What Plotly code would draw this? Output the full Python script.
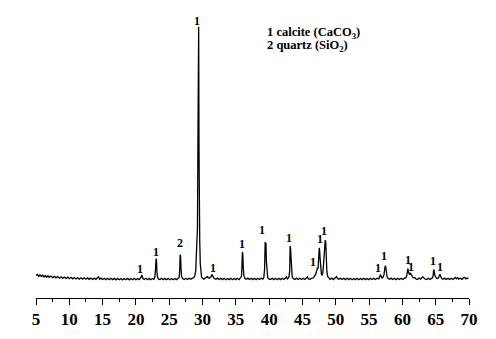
import plotly.graph_objects as go

# 2-theta (degrees) and intensity (arbitrary units)
two_theta = [
    5.0, 5.2, 5.4, 5.6, 5.8, 6.0, 6.2, 6.4, 6.6, 6.8, 7.0, 7.25, 7.5, 7.75, 8.0, 8.25, 8.5, 8.75,
    9.0, 9.25, 9.5, 9.75, 10.0, 10.25, 10.5, 10.75, 11.0, 11.25, 11.5, 11.75, 12.0, 12.25, 12.5,
    12.75, 13.0, 13.25, 13.5, 13.75, 14.0, 14.25, 14.4, 14.55, 14.75, 15.0, 15.25, 15.5, 15.75,
    16.0, 16.25, 16.5, 16.75, 17.0, 17.25, 17.5, 17.75, 18.0, 18.25, 18.5, 18.75, 19.0, 19.25,
    19.5, 19.75, 20.0, 20.25, 20.5, 20.7, 20.8, 20.88, 20.96, 21.05, 21.25, 21.5, 21.75, 22.0,
    22.25, 22.5, 22.7, 22.85, 22.95, 23.02, 23.08, 23.15, 23.25, 23.4, 23.6, 23.85, 24.1, 24.35,
    24.6, 24.85, 25.1, 25.35, 25.6, 25.85, 26.1, 26.35, 26.5, 26.58, 26.64, 26.7, 26.77, 26.85,
    27.0, 27.25, 27.5, 27.75, 28.0, 28.25, 28.5, 28.7, 28.85, 28.98, 29.08, 29.16, 29.24, 29.3,
    29.35, 29.42, 29.47, 29.52, 29.58, 29.66, 29.75, 29.85, 30.0, 30.2, 30.4, 30.6, 30.75, 30.85,
    31.0, 31.15, 31.3, 31.4, 31.48, 31.58, 31.75, 32.0, 32.25, 32.5, 32.75, 33.0, 33.25, 33.5,
    33.75, 34.0, 34.25, 34.5, 34.75, 35.0, 35.25, 35.5, 35.7, 35.85, 35.93, 35.99, 36.05, 36.12,
    36.2, 36.35, 36.55, 36.8, 37.05, 37.3, 37.55, 37.8, 38.05, 38.3, 38.55, 38.8, 39.05, 39.2,
    39.32, 39.4, 39.46, 39.52, 39.58, 39.66, 39.78, 39.95, 40.2, 40.45, 40.7, 40.95, 41.2, 41.45,
    41.7, 41.95, 42.2, 42.45, 42.6, 42.75, 42.95, 43.08, 43.15, 43.22, 43.28, 43.36, 43.46, 43.6,
    43.85, 44.1, 44.35, 44.6, 44.85, 45.1, 45.35, 45.6, 45.75, 45.9, 46.15, 46.4, 46.6, 46.8,
    47.0, 47.15, 47.25, 47.35, 47.45, 47.52, 47.58, 47.65, 47.75, 47.85, 47.95, 48.05, 48.15,
    48.25, 48.35, 48.42, 48.5, 48.58, 48.66, 48.78, 48.95, 49.15, 49.4, 49.65, 49.85, 50.0,
    50.12, 50.25, 50.45, 50.7, 50.95, 51.2, 51.45, 51.7, 51.95, 52.2, 52.45, 52.7, 52.95, 53.2,
    53.45, 53.7, 53.95, 54.2, 54.45, 54.7, 54.95, 55.2, 55.45, 55.7, 55.95, 56.2, 56.45, 56.6,
    56.72, 56.82, 56.95, 57.1, 57.25, 57.35, 57.45, 57.52, 57.6, 57.7, 57.85, 58.05, 58.3, 58.55,
    58.8, 59.05, 59.3, 59.55, 59.8, 60.05, 60.3, 60.5, 60.65, 60.75, 60.83, 60.9, 61.0, 61.1,
    61.2, 61.3, 61.42, 61.55, 61.7, 61.85, 62.0, 62.25, 62.5, 62.75, 62.9, 63.05, 63.2, 63.4,
    63.65, 63.9, 64.15, 64.35, 64.5, 64.62, 64.7, 64.78, 64.86, 64.98, 65.12, 65.3, 65.45, 65.58,
    65.66, 65.76, 65.9, 66.1, 66.35, 66.6, 66.85, 67.1, 67.35, 67.6, 67.8, 67.95, 68.1, 68.3,
    68.45, 68.7, 68.95, 69.1, 69.25, 69.4, 69.55, 69.75, 69.9,
]
intensity = [
    22.8, 24.0, 22.0, 23.6, 21.8, 23.2, 21.4, 22.9, 21.2, 22.6, 21.0, 22.3, 20.7, 22.0, 20.5, 21.8, 20.2, 21.6,
    20.0, 21.3, 19.8, 21.2, 19.7, 21.0, 19.5, 20.8, 19.4, 20.7, 19.2, 20.6, 19.2, 20.5, 19.1,
    20.4, 19.0, 20.3, 18.9, 20.2, 19.0, 20.9, 21.6, 19.2, 20.2, 18.8, 20.1, 18.7, 20.0,
    18.6, 20.0, 18.7, 19.9, 18.5, 19.9, 18.6, 19.8, 18.5, 19.8, 18.6, 19.9, 18.5, 19.8,
    18.6, 19.9, 18.6, 19.9, 18.7, 20.1, 21.5, 23.5, 22.0, 19.8, 18.8, 20.0, 18.6, 19.9,
    18.6, 19.8, 19.0, 21.5, 30.0, 40.0, 39.0, 27.0, 21.0, 19.2, 18.7, 20.0, 18.6, 19.9,
    18.6, 19.9, 18.6, 19.8, 18.6, 19.9, 18.7, 20.0, 21.0, 30.0, 44.0, 43.0, 30.0, 22.5,
    19.8, 18.9, 20.1, 18.8, 20.1, 19.0, 20.3, 20.8, 22.5, 28.0, 45.0, 65.0, 72.0, 150.0,
    276.0, 276.0, 150.0, 70.0, 58.0, 35.0, 25.0, 21.5, 20.0, 19.2, 20.6, 20.8, 22.2, 20.6,
    20.2, 21.5, 21.8, 24.0, 23.2, 21.0, 19.8, 19.0, 20.2, 18.8, 20.1, 18.7, 20.0, 18.6,
    19.9, 18.7, 20.0, 18.6, 19.9, 18.7, 20.0, 18.8, 20.1, 22.0, 35.0, 47.0, 44.0, 30.0,
    23.0, 20.0, 19.0, 20.2, 18.8, 20.1, 18.7, 20.0, 18.7, 20.0, 18.8, 20.1, 19.2, 20.8,
    30.0, 57.0, 52.0, 56.0, 38.0, 25.0, 20.8, 19.4, 18.8, 20.1, 18.7, 20.0, 18.6, 20.0,
    18.7, 20.0, 18.8, 20.3, 21.4, 19.4, 20.8, 27.0, 53.0, 50.0, 42.0, 27.0, 21.5, 19.8,
    18.9, 20.2, 18.8, 20.1, 18.8, 20.1, 18.9, 20.2, 21.5, 19.4, 19.1, 20.3, 20.5, 22.0,
    24.5, 28.0, 31.0, 30.0, 40.0, 51.0, 48.0, 40.0, 28.0, 24.0, 23.5, 25.0, 33.0,
    45.0, 47.0, 59.0, 56.0, 38.0, 27.0, 22.0, 20.1, 19.0, 20.2, 18.8, 20.1, 20.6,
    21.8, 19.8, 19.0, 20.2, 18.8, 20.1, 18.7, 20.0, 18.7, 20.0, 18.6, 19.9, 18.7, 20.0,
    18.6, 19.9, 18.7, 20.0, 18.7, 19.9, 18.7, 20.0, 18.8, 20.1, 18.8, 20.1, 19.4, 21.5,
    24.0, 22.0, 20.4, 21.2, 24.0, 30.0, 33.0, 31.0, 24.0, 21.5, 20.0, 19.0, 20.2, 18.8,
    20.1, 18.7, 20.0, 18.8, 20.1, 18.9, 20.2, 20.3, 22.5, 26.0, 30.0, 27.0, 25.0, 23.5,
    25.5, 24.0, 22.5, 21.2, 20.5, 20.8, 19.6, 18.9, 20.2, 19.2, 20.7, 21.6, 20.6, 19.3,
    18.8, 20.1, 18.9, 20.2, 20.6, 23.0, 29.0, 27.0, 23.0, 21.0, 20.1, 19.8, 21.0, 23.5,
    23.8, 21.5, 19.8, 19.0, 20.2, 18.8, 20.1, 18.8, 20.1, 18.9, 20.3, 20.9, 19.5, 20.8,
    19.3, 20.2, 19.0, 20.4, 21.0, 20.5, 19.5, 20.3, 19.5,
]

# Peak labels: position (2-theta), label height, phase number
label_x = [20.6, 23.0, 26.57, 29.1, 31.5, 35.9, 38.9, 43.0, 46.6, 47.6, 48.2,
           56.4, 57.3, 60.8, 61.3, 64.6, 65.7]
label_y = [29, 47, 55.7, 282, 30.7, 54.7, 68.7, 60.7, 36.3, 59.7, 67.7,
           30.7, 42.3, 38.7, 31.3, 38, 31.3]
label_text = ["1", "1", "2", "1", "1", "1", "1", "1", "1", "1", "1",
              "1", "1", "1", "1", "1", "1"]

legend_lines = ["1 calcite (CaCO<sub>3</sub>)", "2 quartz (SiO<sub>2</sub>)"]
legend_y = [269.5, 256.0]
legend_x = 39.38

x_ticks = [5, 10, 15, 20, 25, 30, 35, 40, 45, 50, 55, 60, 65, 70]

SERIF = "Liberation Serif"

fig = go.Figure()
fig.add_trace(go.Scatter(
    x=two_theta, y=intensity, mode="lines",
    line=dict(color="black", width=1.3),
    hoverinfo="skip", showlegend=False,
))

for lx, ly, lt in zip(label_x, label_y, label_text):
    fig.add_annotation(x=lx, y=ly, text="<b>" + lt + "</b>", showarrow=False,
                       xanchor="center", yanchor="middle",
                       font=dict(family=SERIF, size=12, color="black"))

for txt, ly in zip(legend_lines, legend_y):
    fig.add_annotation(x=legend_x, y=ly, text="<b>" + txt + "</b>", showarrow=False,
                       xanchor="left", yanchor="middle",
                       font=dict(family=SERIF, size=12.5, color="black"))

fig.update_layout(
    width=496, height=339,
    margin=dict(l=36, r=27, t=10, b=36),
    paper_bgcolor="white", plot_bgcolor="white",
    xaxis=dict(
        range=[5, 70], tickmode="array", tickvals=x_ticks,
        ticktext=["<b>" + str(v) + "</b>" for v in x_ticks],
        showline=True, linecolor="black", linewidth=1,
        ticks="outside", ticklen=6, tickwidth=1, tickcolor="black",
        minor=dict(tickvals=[7.5 + 5 * i for i in range(13)], ticks="outside",
                   ticklen=3, tickwidth=1, tickcolor="black"),
        showgrid=False, zeroline=False,
        tickfont=dict(family=SERIF, size=17, color="black"),
    ),
    yaxis=dict(range=[0, 293], visible=False, showgrid=False, zeroline=False),
)

fig.write_html("out.html")
